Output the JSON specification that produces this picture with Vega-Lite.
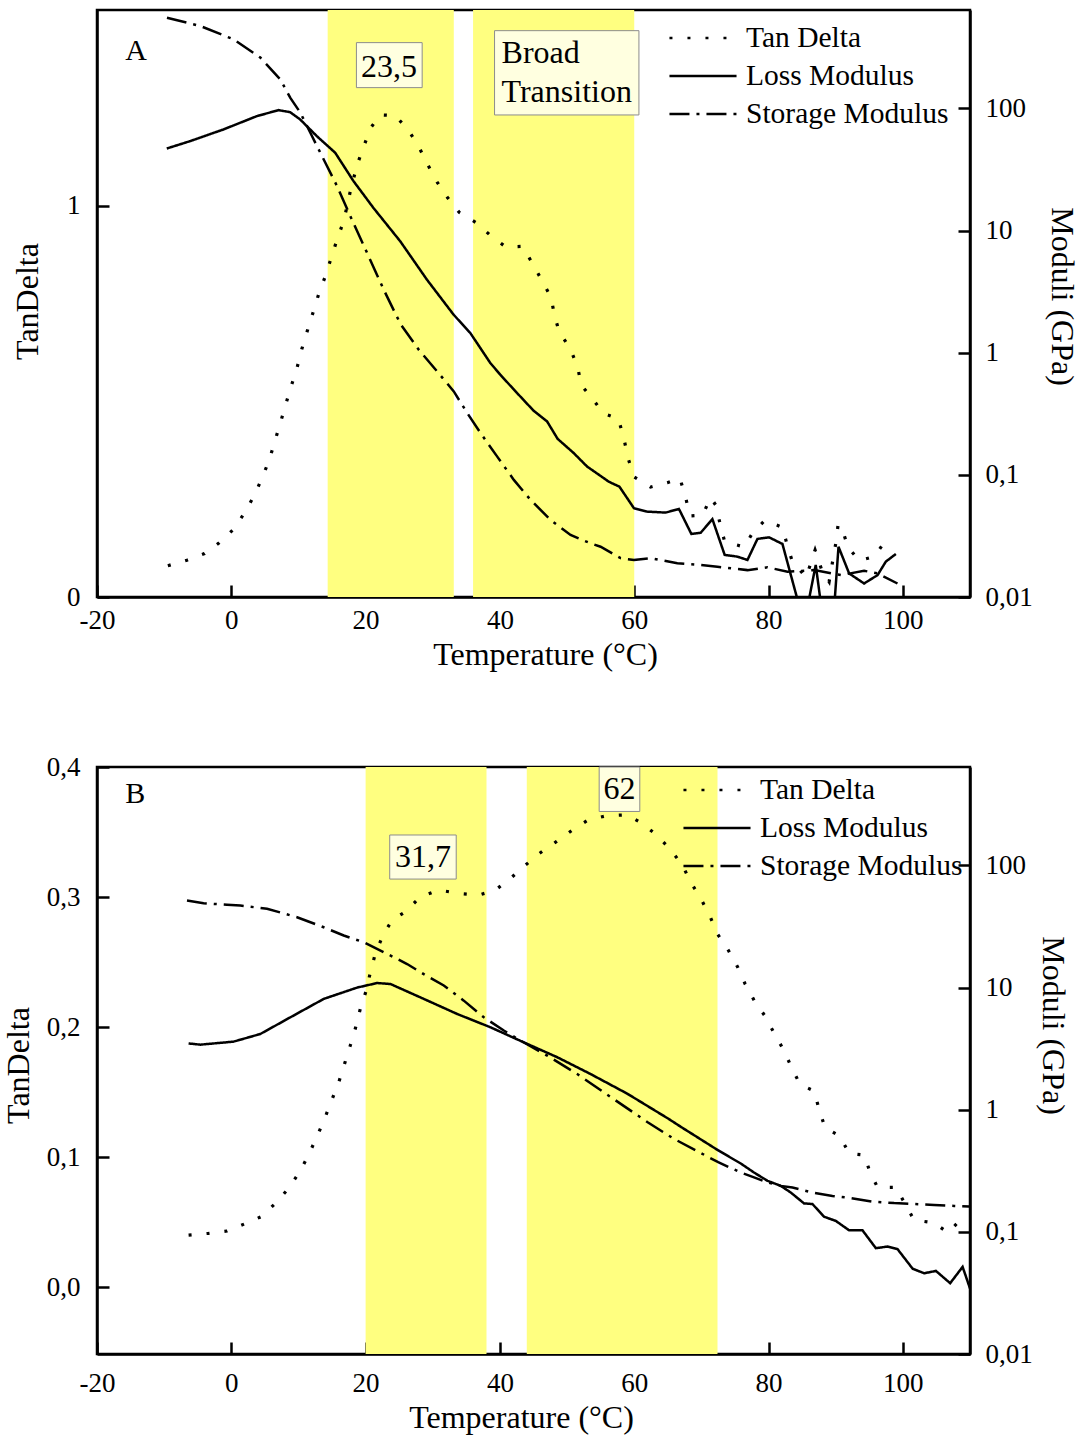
{
  "$schema": "https://vega.github.io/schema/vega-lite/v6.json",
  "background": "white",
  "padding": {"left": 0, "top": 8, "right": 0, "bottom": 0},
  "config": {
    "font": "Liberation Serif",
    "view": {"stroke": "black", "strokeWidth": 2.5},
    "axis": {"domainColor": "black", "domainWidth": 2.5, "tickColor": "black", "tickWidth": 2.5, "tickSize": -12, "labelColor": "black", "titleColor": "black", "labelFont": "Liberation Serif", "titleFont": "Liberation Serif", "labelFontSize": 27, "titleFontSize": 32, "titleFontWeight": "normal", "grid": false, "labelFlush": false, "labelOverlap": false}
  },
  "datasets": {
    "bandsA": [{"T": 14.35, "T2": 33.13}, {"T": 36.0, "T2": 60.0}],
    "bandsB": [{"T": 20.0, "T2": 38.0}, {"T": 44.0, "T2": 72.4}],
    "boxesA": [{"T": 18.63, "T2": 28.42, "tan": 1.4166, "tan2": 1.3016}, {"T": 39.2, "T2": 60.7, "tan": 1.4472, "tan2": 1.2318}],
    "boxesB": [{"T": 23.59, "T2": 33.49, "tan": 0.3477, "tan2": 0.3138}, {"T": 54.78, "T2": 60.83, "tan": 0.4, "tan2": 0.3658}],
    "numA": [{"T": 23.5, "tan": 1.3297, "label": "23,5"}],
    "numB": [{"T": 28.56, "tan": 0.3228, "label": "31,7"}, {"T": 57.8, "tan": 0.3753, "label": "62"}],
    "leftA": [{"T": 40.24, "tan": 1.3639, "label": "Broad\nTransition"}],
    "letterA": [{"T": -15.8, "tan": 1.372, "label": "A"}],
    "letterB": [{"T": -15.8, "tan": 0.3725, "label": "B"}],
    "tanA": [
      {"T": -9.45, "tan": 0.080, "series": "Tan Delta"}, {"T": -6.61, "tan": 0.094, "series": "Tan Delta"}, {"T": -3.99, "tan": 0.111, "series": "Tan Delta"}, {"T": -1.90, "tan": 0.137, "series": "Tan Delta"}, {"T": 0.34, "tan": 0.173, "series": "Tan Delta"}, {"T": 2.09, "tan": 0.218, "series": "Tan Delta"}, {"T": 3.43, "tan": 0.260, "series": "Tan Delta"}, {"T": 4.58, "tan": 0.304, "series": "Tan Delta"}, {"T": 5.67, "tan": 0.351, "series": "Tan Delta"}, {"T": 6.46, "tan": 0.397, "series": "Tan Delta"}, {"T": 7.31, "tan": 0.445, "series": "Tan Delta"}, {"T": 8.10, "tan": 0.492, "series": "Tan Delta"}, {"T": 8.91, "tan": 0.538, "series": "Tan Delta"}, {"T": 9.81, "tan": 0.587, "series": "Tan Delta"}, {"T": 10.49, "tan": 0.633, "series": "Tan Delta"}, {"T": 11.30, "tan": 0.679, "series": "Tan Delta"}, {"T": 12.19, "tan": 0.728, "series": "Tan Delta"}, {"T": 13.03, "tan": 0.775, "series": "Tan Delta"}, {"T": 14.03, "tan": 0.821, "series": "Tan Delta"}, {"T": 14.88, "tan": 0.867, "series": "Tan Delta"}, {"T": 15.78, "tan": 0.915, "series": "Tan Delta"}, {"T": 16.76, "tan": 0.962, "series": "Tan Delta"}, {"T": 17.70, "tan": 1.035, "series": "Tan Delta"}, {"T": 18.73, "tan": 1.104, "series": "Tan Delta"}, {"T": 19.72, "tan": 1.151, "series": "Tan Delta"}, {"T": 20.72, "tan": 1.198, "series": "Tan Delta"}, {"T": 22.21, "tan": 1.232, "series": "Tan Delta"}, {"T": 24.44, "tan": 1.230, "series": "Tan Delta"}, {"T": 26.46, "tan": 1.191, "series": "Tan Delta"}, {"T": 27.96, "tan": 1.149, "series": "Tan Delta"}, {"T": 29.21, "tan": 1.106, "series": "Tan Delta"}, {"T": 30.70, "tan": 1.059, "series": "Tan Delta"}, {"T": 32.19, "tan": 1.021, "series": "Tan Delta"}, {"T": 33.93, "tan": 0.983, "series": "Tan Delta"}, {"T": 36.42, "tan": 0.957, "series": "Tan Delta"}, {"T": 38.66, "tan": 0.923, "series": "Tan Delta"}, {"T": 40.90, "tan": 0.894, "series": "Tan Delta"}, {"T": 43.39, "tan": 0.896, "series": "Tan Delta"}, {"T": 44.88, "tan": 0.851, "series": "Tan Delta"}, {"T": 46.12, "tan": 0.813, "series": "Tan Delta"}, {"T": 47.61, "tan": 0.766, "series": "Tan Delta"}, {"T": 48.10, "tan": 0.722, "series": "Tan Delta"}, {"T": 48.81, "tan": 0.678, "series": "Tan Delta"}, {"T": 50.46, "tan": 0.635, "series": "Tan Delta"}, {"T": 51.57, "tan": 0.588, "series": "Tan Delta"}, {"T": 52.12, "tan": 0.541, "series": "Tan Delta"}, {"T": 53.77, "tan": 0.507, "series": "Tan Delta"}, {"T": 55.42, "tan": 0.469, "series": "Tan Delta"}, {"T": 57.63, "tan": 0.456, "series": "Tan Delta"}, {"T": 58.46, "tan": 0.405, "series": "Tan Delta"}, {"T": 59.10, "tan": 0.354, "series": "Tan Delta"}, {"T": 59.96, "tan": 0.307, "series": "Tan Delta"}, {"T": 62.44, "tan": 0.281, "series": "Tan Delta"}, {"T": 64.93, "tan": 0.292, "series": "Tan Delta"}, {"T": 66.81, "tan": 0.303, "series": "Tan Delta"}, {"T": 67.66, "tan": 0.254, "series": "Tan Delta"}, {"T": 68.30, "tan": 0.207, "series": "Tan Delta"}, {"T": 70.15, "tan": 0.209, "series": "Tan Delta"}, {"T": 71.39, "tan": 0.254, "series": "Tan Delta"}, {"T": 72.13, "tan": 0.235, "series": "Tan Delta"}, {"T": 72.77, "tan": 0.188, "series": "Tan Delta"}, {"T": 73.47, "tan": 0.141, "series": "Tan Delta"}, {"T": 76.35, "tan": 0.128, "series": "Tan Delta"}, {"T": 77.75, "tan": 0.167, "series": "Tan Delta"}, {"T": 79.48, "tan": 0.196, "series": "Tan Delta"}, {"T": 82.07, "tan": 0.178, "series": "Tan Delta"}, {"T": 82.82, "tan": 0.130, "series": "Tan Delta"}, {"T": 83.56, "tan": 0.090, "series": "Tan Delta"}, {"T": 84.60, "tan": 0.070, "series": "Tan Delta"}, {"T": 85.60, "tan": 0.050, "series": "Tan Delta"}, {"T": 86.93, "tan": 0.120, "series": "Tan Delta"}, {"T": 88.00, "tan": 0.065, "series": "Tan Delta"}, {"T": 89.02, "tan": 0.039, "series": "Tan Delta"}, {"T": 90.01, "tan": 0.137, "series": "Tan Delta"}, {"T": 90.36, "tan": 0.185, "series": "Tan Delta"}, {"T": 91.01, "tan": 0.171, "series": "Tan Delta"}, {"T": 91.85, "tan": 0.127, "series": "Tan Delta"}, {"T": 93.49, "tan": 0.093, "series": "Tan Delta"}, {"T": 95.72, "tan": 0.103, "series": "Tan Delta"}, {"T": 97.47, "tan": 0.145, "series": "Tan Delta"}
    ],
    "modA": [
      {"T": -9.61, "v": 47.0, "series": "Loss Modulus"}, {"T": -6.14, "v": 54.0, "series": "Loss Modulus"}, {"T": -1.18, "v": 67.3, "series": "Loss Modulus"}, {"T": 3.80, "v": 86.5, "series": "Loss Modulus"}, {"T": 7.02, "v": 96.9, "series": "Loss Modulus"}, {"T": 8.76, "v": 93.3, "series": "Loss Modulus"}, {"T": 10.25, "v": 81.3, "series": "Loss Modulus"}, {"T": 12.74, "v": 59.3, "series": "Loss Modulus"}, {"T": 15.47, "v": 43.4, "series": "Loss Modulus"}, {"T": 18.20, "v": 25.4, "series": "Loss Modulus"}, {"T": 21.18, "v": 15.3, "series": "Loss Modulus"}, {"T": 25.16, "v": 8.17, "series": "Loss Modulus"}, {"T": 29.14, "v": 3.96, "series": "Loss Modulus"}, {"T": 33.10, "v": 2.05, "series": "Loss Modulus"}, {"T": 35.59, "v": 1.45, "series": "Loss Modulus"}, {"T": 38.57, "v": 0.824, "series": "Loss Modulus"}, {"T": 40.06, "v": 0.660, "series": "Loss Modulus"}, {"T": 42.55, "v": 0.468, "series": "Loss Modulus"}, {"T": 45.02, "v": 0.335, "series": "Loss Modulus"}, {"T": 47.02, "v": 0.274, "series": "Loss Modulus"}, {"T": 48.60, "v": 0.197, "series": "Loss Modulus"}, {"T": 50.98, "v": 0.151, "series": "Loss Modulus"}, {"T": 52.98, "v": 0.117, "series": "Loss Modulus"}, {"T": 54.99, "v": 0.098, "series": "Loss Modulus"}, {"T": 56.20, "v": 0.088, "series": "Loss Modulus"}, {"T": 57.80, "v": 0.080, "series": "Loss Modulus"}, {"T": 59.96, "v": 0.0533, "series": "Loss Modulus"}, {"T": 61.95, "v": 0.0500, "series": "Loss Modulus"}, {"T": 64.68, "v": 0.0491, "series": "Loss Modulus"}, {"T": 66.66, "v": 0.0526, "series": "Loss Modulus"}, {"T": 68.51, "v": 0.0328, "series": "Loss Modulus"}, {"T": 69.90, "v": 0.0336, "series": "Loss Modulus"}, {"T": 71.64, "v": 0.0434, "series": "Loss Modulus"}, {"T": 73.47, "v": 0.0221, "series": "Loss Modulus"}, {"T": 75.37, "v": 0.0214, "series": "Loss Modulus"}, {"T": 76.86, "v": 0.0201, "series": "Loss Modulus"}, {"T": 78.35, "v": 0.0299, "series": "Loss Modulus"}, {"T": 80.07, "v": 0.0308, "series": "Loss Modulus"}, {"T": 82.07, "v": 0.0272, "series": "Loss Modulus"}, {"T": 85.30, "v": 0.006, "series": "Loss Modulus"}, {"T": 87.03, "v": 0.0183, "series": "Loss Modulus"}, {"T": 88.20, "v": 0.006, "series": "Loss Modulus"}, {"T": 89.60, "v": 0.006, "series": "Loss Modulus"}, {"T": 90.42, "v": 0.0258, "series": "Loss Modulus"}, {"T": 92.00, "v": 0.0156, "series": "Loss Modulus"}, {"T": 94.23, "v": 0.0129, "series": "Loss Modulus"}, {"T": 96.23, "v": 0.0151, "series": "Loss Modulus"}, {"T": 97.47, "v": 0.0195, "series": "Loss Modulus"}, {"T": 98.96, "v": 0.0225, "series": "Loss Modulus"},
      {"T": -9.58, "v": 553, "series": "Storage Modulus"}, {"T": -4.62, "v": 473, "series": "Storage Modulus"}, {"T": 0.34, "v": 368, "series": "Storage Modulus"}, {"T": 4.32, "v": 261, "series": "Storage Modulus"}, {"T": 7.30, "v": 173, "series": "Storage Modulus"}, {"T": 8.79, "v": 122, "series": "Storage Modulus"}, {"T": 10.28, "v": 92.3, "series": "Storage Modulus"}, {"T": 11.77, "v": 63.2, "series": "Storage Modulus"}, {"T": 13.76, "v": 38.2, "series": "Storage Modulus"}, {"T": 15.75, "v": 23.1, "series": "Storage Modulus"}, {"T": 17.73, "v": 13.1, "series": "Storage Modulus"}, {"T": 20.22, "v": 6.56, "series": "Storage Modulus"}, {"T": 22.70, "v": 3.28, "series": "Storage Modulus"}, {"T": 25.19, "v": 1.72, "series": "Storage Modulus"}, {"T": 27.91, "v": 1.06, "series": "Storage Modulus"}, {"T": 30.66, "v": 0.703, "series": "Storage Modulus"}, {"T": 33.13, "v": 0.482, "series": "Storage Modulus"}, {"T": 35.13, "v": 0.321, "series": "Storage Modulus"}, {"T": 37.11, "v": 0.220, "series": "Storage Modulus"}, {"T": 39.60, "v": 0.141, "series": "Storage Modulus"}, {"T": 42.07, "v": 0.091, "series": "Storage Modulus"}, {"T": 44.56, "v": 0.0624, "series": "Storage Modulus"}, {"T": 47.54, "v": 0.0428, "series": "Storage Modulus"}, {"T": 50.52, "v": 0.0322, "series": "Storage Modulus"}, {"T": 53.50, "v": 0.0275, "series": "Storage Modulus"}, {"T": 54.99, "v": 0.0258, "series": "Storage Modulus"}, {"T": 57.97, "v": 0.0208, "series": "Storage Modulus"}, {"T": 59.96, "v": 0.0201, "series": "Storage Modulus"}, {"T": 62.44, "v": 0.0208, "series": "Storage Modulus"}, {"T": 66.42, "v": 0.0189, "series": "Storage Modulus"}, {"T": 69.90, "v": 0.0183, "series": "Storage Modulus"}, {"T": 72.38, "v": 0.0177, "series": "Storage Modulus"}, {"T": 76.86, "v": 0.0166, "series": "Storage Modulus"}, {"T": 79.84, "v": 0.0175, "series": "Storage Modulus"}, {"T": 82.82, "v": 0.0161, "series": "Storage Modulus"}, {"T": 86.80, "v": 0.0166, "series": "Storage Modulus"}, {"T": 90.80, "v": 0.0151, "series": "Storage Modulus"}, {"T": 94.23, "v": 0.0164, "series": "Storage Modulus"}, {"T": 96.23, "v": 0.0156, "series": "Storage Modulus"}, {"T": 99.20, "v": 0.0129, "series": "Storage Modulus"}
    ],
    "tanB": [
      {"T": -6.36, "tan": 0.040, "series": "Tan Delta"}, {"T": -3.38, "tan": 0.0413, "series": "Tan Delta"}, {"T": -0.64, "tan": 0.0431, "series": "Tan Delta"}, {"T": 1.94, "tan": 0.0485, "series": "Tan Delta"}, {"T": 4.43, "tan": 0.0541, "series": "Tan Delta"}, {"T": 6.45, "tan": 0.0638, "series": "Tan Delta"}, {"T": 8.45, "tan": 0.0754, "series": "Tan Delta"}, {"T": 10.18, "tan": 0.0887, "series": "Tan Delta"}, {"T": 11.48, "tan": 0.1013, "series": "Tan Delta"}, {"T": 12.67, "tan": 0.1148, "series": "Tan Delta"}, {"T": 13.82, "tan": 0.1285, "series": "Tan Delta"}, {"T": 14.86, "tan": 0.1425, "series": "Tan Delta"}, {"T": 15.95, "tan": 0.1567, "series": "Tan Delta"}, {"T": 16.84, "tan": 0.1713, "series": "Tan Delta"}, {"T": 17.70, "tan": 0.1855, "series": "Tan Delta"}, {"T": 18.48, "tan": 0.199, "series": "Tan Delta"}, {"T": 19.23, "tan": 0.2144, "series": "Tan Delta"}, {"T": 20.12, "tan": 0.2285, "series": "Tan Delta"}, {"T": 20.72, "tan": 0.2425, "series": "Tan Delta"}, {"T": 21.46, "tan": 0.2567, "series": "Tan Delta"}, {"T": 22.61, "tan": 0.2708, "series": "Tan Delta"}, {"T": 23.95, "tan": 0.2823, "series": "Tan Delta"}, {"T": 25.93, "tan": 0.2887, "series": "Tan Delta"}, {"T": 28.17, "tan": 0.3002, "series": "Tan Delta"}, {"T": 30.89, "tan": 0.3054, "series": "Tan Delta"}, {"T": 33.87, "tan": 0.3028, "series": "Tan Delta"}, {"T": 36.86, "tan": 0.3015, "series": "Tan Delta"}, {"T": 39.34, "tan": 0.3054, "series": "Tan Delta"}, {"T": 41.58, "tan": 0.3144, "series": "Tan Delta"}, {"T": 43.82, "tan": 0.3246, "series": "Tan Delta"}, {"T": 45.90, "tan": 0.3336, "series": "Tan Delta"}, {"T": 48.40, "tan": 0.3426, "series": "Tan Delta"}, {"T": 50.67, "tan": 0.3511, "series": "Tan Delta"}, {"T": 53.14, "tan": 0.3593, "series": "Tan Delta"}, {"T": 55.89, "tan": 0.3625, "series": "Tan Delta"}, {"T": 58.91, "tan": 0.3632, "series": "Tan Delta"}, {"T": 61.12, "tan": 0.3568, "series": "Tan Delta"}, {"T": 63.31, "tan": 0.3478, "series": "Tan Delta"}, {"T": 65.23, "tan": 0.3375, "series": "Tan Delta"}, {"T": 67.17, "tan": 0.3246, "series": "Tan Delta"}, {"T": 68.36, "tan": 0.3118, "series": "Tan Delta"}, {"T": 69.91, "tan": 0.2989, "series": "Tan Delta"}, {"T": 71.28, "tan": 0.2852, "series": "Tan Delta"}, {"T": 72.37, "tan": 0.2718, "series": "Tan Delta"}, {"T": 74.02, "tan": 0.259, "series": "Tan Delta"}, {"T": 75.39, "tan": 0.2462, "series": "Tan Delta"}, {"T": 76.50, "tan": 0.2333, "series": "Tan Delta"}, {"T": 77.87, "tan": 0.2204, "series": "Tan Delta"}, {"T": 79.52, "tan": 0.2081, "series": "Tan Delta"}, {"T": 80.89, "tan": 0.1947, "series": "Tan Delta"}, {"T": 82.31, "tan": 0.1818, "series": "Tan Delta"}, {"T": 83.41, "tan": 0.169, "series": "Tan Delta"}, {"T": 84.69, "tan": 0.1559, "series": "Tan Delta"}, {"T": 86.78, "tan": 0.1508, "series": "Tan Delta"}, {"T": 87.53, "tan": 0.1367, "series": "Tan Delta"}, {"T": 88.42, "tan": 0.1225, "series": "Tan Delta"}, {"T": 90.61, "tan": 0.1162, "series": "Tan Delta"}, {"T": 92.00, "tan": 0.1028, "series": "Tan Delta"}, {"T": 94.23, "tan": 0.1015, "series": "Tan Delta"}, {"T": 95.13, "tan": 0.0882, "series": "Tan Delta"}, {"T": 96.23, "tan": 0.0767, "series": "Tan Delta"}, {"T": 98.96, "tan": 0.0767, "series": "Tan Delta"}, {"T": 101.68, "tan": 0.0515, "series": "Tan Delta"}, {"T": 104.57, "tan": 0.0495, "series": "Tan Delta"}, {"T": 106.75, "tan": 0.0418, "series": "Tan Delta"}, {"T": 108.39, "tan": 0.0508, "series": "Tan Delta"}, {"T": 109.64, "tan": 0.0477, "series": "Tan Delta"}
    ],
    "modB": [
      {"T": -6.36, "v": 3.49, "series": "Loss Modulus"}, {"T": -4.62, "v": 3.41, "series": "Loss Modulus"}, {"T": 0.34, "v": 3.61, "series": "Loss Modulus"}, {"T": 4.32, "v": 4.17, "series": "Loss Modulus"}, {"T": 8.79, "v": 5.71, "series": "Loss Modulus"}, {"T": 13.76, "v": 8.08, "series": "Loss Modulus"}, {"T": 18.73, "v": 10.0, "series": "Loss Modulus"}, {"T": 21.71, "v": 10.9, "series": "Loss Modulus"}, {"T": 23.70, "v": 10.7, "series": "Loss Modulus"}, {"T": 28.66, "v": 8.08, "series": "Loss Modulus"}, {"T": 33.64, "v": 6.08, "series": "Loss Modulus"}, {"T": 38.60, "v": 4.73, "series": "Loss Modulus"}, {"T": 43.56, "v": 3.56, "series": "Loss Modulus"}, {"T": 48.54, "v": 2.69, "series": "Loss Modulus"}, {"T": 53.50, "v": 1.96, "series": "Loss Modulus"}, {"T": 59.00, "v": 1.35, "series": "Loss Modulus"}, {"T": 65.10, "v": 0.843, "series": "Loss Modulus"}, {"T": 67.00, "v": 0.721, "series": "Loss Modulus"}, {"T": 72.50, "v": 0.465, "series": "Loss Modulus"}, {"T": 75.86, "v": 0.363, "series": "Loss Modulus"}, {"T": 77.84, "v": 0.306, "series": "Loss Modulus"}, {"T": 79.84, "v": 0.262, "series": "Loss Modulus"}, {"T": 81.82, "v": 0.238, "series": "Loss Modulus"}, {"T": 83.31, "v": 0.210, "series": "Loss Modulus"}, {"T": 85.29, "v": 0.171, "series": "Loss Modulus"}, {"T": 86.54, "v": 0.169, "series": "Loss Modulus"}, {"T": 88.27, "v": 0.133, "series": "Loss Modulus"}, {"T": 90.01, "v": 0.123, "series": "Loss Modulus"}, {"T": 92.00, "v": 0.103, "series": "Loss Modulus"}, {"T": 93.99, "v": 0.103, "series": "Loss Modulus"}, {"T": 95.98, "v": 0.0735, "series": "Loss Modulus"}, {"T": 97.72, "v": 0.0758, "series": "Loss Modulus"}, {"T": 99.21, "v": 0.0722, "series": "Loss Modulus"}, {"T": 101.45, "v": 0.050, "series": "Loss Modulus"}, {"T": 103.17, "v": 0.0458, "series": "Loss Modulus"}, {"T": 104.92, "v": 0.0479, "series": "Loss Modulus"}, {"T": 107.05, "v": 0.038, "series": "Loss Modulus"}, {"T": 108.90, "v": 0.0517, "series": "Loss Modulus"}, {"T": 110.13, "v": 0.0328, "series": "Loss Modulus"},
      {"T": -6.60, "v": 51.6, "series": "Storage Modulus"}, {"T": -4.13, "v": 49.1, "series": "Storage Modulus"}, {"T": -0.64, "v": 47.6, "series": "Storage Modulus"}, {"T": 1.34, "v": 47.0, "series": "Storage Modulus"}, {"T": 5.32, "v": 44.2, "series": "Storage Modulus"}, {"T": 9.79, "v": 37.7, "series": "Storage Modulus"}, {"T": 13.76, "v": 31.2, "series": "Storage Modulus"}, {"T": 16.74, "v": 26.7, "series": "Storage Modulus"}, {"T": 19.72, "v": 23.5, "series": "Storage Modulus"}, {"T": 22.70, "v": 19.5, "series": "Storage Modulus"}, {"T": 26.18, "v": 15.6, "series": "Storage Modulus"}, {"T": 28.66, "v": 12.9, "series": "Storage Modulus"}, {"T": 31.64, "v": 10.4, "series": "Storage Modulus"}, {"T": 34.62, "v": 7.82, "series": "Storage Modulus"}, {"T": 37.60, "v": 5.71, "series": "Storage Modulus"}, {"T": 40.58, "v": 4.45, "series": "Storage Modulus"}, {"T": 43.07, "v": 3.68, "series": "Storage Modulus"}, {"T": 47.05, "v": 2.77, "series": "Storage Modulus"}, {"T": 51.52, "v": 1.96, "series": "Storage Modulus"}, {"T": 56.50, "v": 1.27, "series": "Storage Modulus"}, {"T": 62.00, "v": 0.79, "series": "Storage Modulus"}, {"T": 65.90, "v": 0.578, "series": "Storage Modulus"}, {"T": 72.50, "v": 0.372, "series": "Storage Modulus"}, {"T": 75.86, "v": 0.306, "series": "Storage Modulus"}, {"T": 77.84, "v": 0.279, "series": "Storage Modulus"}, {"T": 79.84, "v": 0.254, "series": "Storage Modulus"}, {"T": 81.82, "v": 0.238, "series": "Storage Modulus"}, {"T": 83.56, "v": 0.231, "series": "Storage Modulus"}, {"T": 86.54, "v": 0.210, "series": "Storage Modulus"}, {"T": 89.52, "v": 0.197, "series": "Storage Modulus"}, {"T": 92.25, "v": 0.189, "series": "Storage Modulus"}, {"T": 95.48, "v": 0.177, "series": "Storage Modulus"}, {"T": 98.70, "v": 0.172, "series": "Storage Modulus"}, {"T": 101.68, "v": 0.169, "series": "Storage Modulus"}, {"T": 104.66, "v": 0.166, "series": "Storage Modulus"}, {"T": 107.64, "v": 0.163, "series": "Storage Modulus"}, {"T": 109.88, "v": 0.161, "series": "Storage Modulus"}
    ]
  },
  "spacing": 170,
  "bounds": "flush",
  "resolve": {"scale": {"x": "independent", "y": "independent", "strokeDash": "independent"}, "legend": {"strokeDash": "independent"}},
  "vconcat": [
    {
      "width": 873, "height": 587,
      "encoding": {"x": {"field": "T", "type": "quantitative", "scale": {"domain": [-20, 110], "nice": false, "zero": false}, "axis": {"values": [-20, 0, 20, 40, 60, 80, 100], "title": "Temperature (°C)", "labelExpr": "datum.value < 0 ? '-' + abs(datum.value) : '' + datum.value", "labelPadding": 22, "titleX": 448, "titleY": 67, "titleAlign": "center", "titleBaseline": "alphabetic"}}},
      "layer": [
        {"layer": [
          {"data": {"name": "bandsA"}, "mark": {"type": "rect", "fill": "#FFFF80"}, "encoding": {"x2": {"field": "T2"}}},
          {"data": {"name": "tanA"}, "mark": {"type": "line", "color": "black", "strokeWidth": 3.2},
           "encoding": {
             "y": {"field": "tan", "type": "quantitative", "scale": {"domain": [0, 1.5], "nice": false, "zero": false}, "axis": {"orient": "left", "values": [0, 1], "labelExpr": "'' + datum.value", "title": "TanDelta", "titleX": -60, "titleY": 291, "titleAngle": 270, "titleBaseline": "alphabetic", "titleAlign": "center", "labelPadding": 29}},
             "strokeDash": {"field": "series", "type": "nominal", "scale": {"domain": ["Tan Delta", "Loss Modulus", "Storage Modulus"], "range": [[3, 15], [1, 0], [20, 7, 3, 7]]},
               "legend": {"orient": "none", "legendX": 583, "legendY": 5, "title": null, "symbolType": "M-1.56,0L1.56,0", "symbolSize": 1849, "symbolStrokeWidth": 2.7, "symbolStrokeColor": "black", "labelFont": "Liberation Serif", "labelFontSize": 29.5, "labelColor": "black", "labelOffset": 20, "labelLimit": 400, "rowPadding": 0, "padding": 0}}
           }},
          {"data": {"name": "boxesA"}, "mark": {"type": "rect", "fill": "#FFFFE0", "stroke": "#8c8c8c", "strokeWidth": 1}, "encoding": {"x2": {"field": "T2"}, "y": {"field": "tan", "type": "quantitative"}, "y2": {"field": "tan2"}}},
          {"data": {"name": "numA"}, "mark": {"type": "text", "fontSize": 32, "align": "center", "baseline": "alphabetic", "font": "Liberation Serif", "color": "black"}, "encoding": {"y": {"field": "tan", "type": "quantitative"}, "text": {"field": "label"}}},
          {"data": {"name": "leftA"}, "mark": {"type": "text", "fontSize": 32, "align": "left", "baseline": "alphabetic", "font": "Liberation Serif", "color": "black", "lineBreak": "\n", "lineHeight": 39}, "encoding": {"y": {"field": "tan", "type": "quantitative"}, "text": {"field": "label"}}},
          {"data": {"name": "letterA"}, "mark": {"type": "text", "fontSize": 30, "align": "left", "baseline": "alphabetic", "font": "Liberation Serif", "color": "black"}, "encoding": {"y": {"field": "tan", "type": "quantitative"}, "text": {"field": "label"}}}
        ]},
        {"data": {"name": "modA"}, "mark": {"type": "line", "color": "black", "strokeWidth": 2.5, "clip": true},
         "encoding": {
           "y": {"field": "v", "type": "quantitative", "scale": {"type": "log", "domain": [0.01, 640], "nice": false}, "axis": {"orient": "right", "values": [0.01, 0.1, 1, 10, 100], "labelExpr": "replace('' + datum.value, '.', ',')", "title": "Moduli (GPa)", "titleX": 81, "titleY": 286, "titleAngle": 90, "titleBaseline": "alphabetic", "titleAlign": "center", "labelPadding": 27}},
           "strokeDash": {"field": "series", "type": "nominal"}
         }}
      ],
      "resolve": {"scale": {"y": "independent"}}
    },
    {
      "width": 873, "height": 587,
      "encoding": {"x": {"field": "T", "type": "quantitative", "scale": {"domain": [-20, 110], "nice": false, "zero": false}, "axis": {"values": [-20, 0, 20, 40, 60, 80, 100], "title": "Temperature (°C)", "labelExpr": "datum.value < 0 ? '-' + abs(datum.value) : '' + datum.value", "labelPadding": 28, "titleX": 424, "titleY": 73, "titleAlign": "center", "titleBaseline": "alphabetic"}}},
      "layer": [
        {"layer": [
          {"data": {"name": "bandsB"}, "mark": {"type": "rect", "fill": "#FFFF80"}, "encoding": {"x2": {"field": "T2"}}},
          {"data": {"name": "tanB"}, "mark": {"type": "line", "color": "black", "strokeWidth": 3.2},
           "encoding": {
             "y": {"field": "tan", "type": "quantitative", "scale": {"domain": [-0.0515, 0.4], "nice": false, "zero": false}, "axis": {"orient": "left", "values": [0, 0.1, 0.2, 0.3, 0.4], "labelExpr": "replace(format(datum.value, '.1f'), '.', ',')", "title": "TanDelta", "titleX": -69, "titleY": 298, "titleAngle": 270, "titleBaseline": "alphabetic", "titleAlign": "center", "labelPadding": 29}},
             "strokeDash": {"field": "series", "type": "nominal", "scale": {"domain": ["Tan Delta", "Loss Modulus", "Storage Modulus"], "range": [[3, 15], [1, 0], [20, 7, 3, 7]]},
               "legend": {"orient": "none", "legendX": 597, "legendY": 0, "title": null, "symbolType": "M-1.56,0L1.56,0", "symbolSize": 1849, "symbolStrokeWidth": 2.7, "symbolStrokeColor": "black", "labelFont": "Liberation Serif", "labelFontSize": 29.5, "labelColor": "black", "labelOffset": 20, "labelLimit": 400, "rowPadding": 0, "padding": 0}}
           }},
          {"data": {"name": "boxesB"}, "mark": {"type": "rect", "fill": "#FFFFE0", "stroke": "#8c8c8c", "strokeWidth": 1}, "encoding": {"x2": {"field": "T2"}, "y": {"field": "tan", "type": "quantitative"}, "y2": {"field": "tan2"}}},
          {"data": {"name": "numB"}, "mark": {"type": "text", "fontSize": 32, "align": "center", "baseline": "alphabetic", "font": "Liberation Serif", "color": "black"}, "encoding": {"y": {"field": "tan", "type": "quantitative"}, "text": {"field": "label"}}},
          {"data": {"name": "letterB"}, "mark": {"type": "text", "fontSize": 30, "align": "left", "baseline": "alphabetic", "font": "Liberation Serif", "color": "black"}, "encoding": {"y": {"field": "tan", "type": "quantitative"}, "text": {"field": "label"}}}
        ]},
        {"data": {"name": "modB"}, "mark": {"type": "line", "color": "black", "strokeWidth": 2.5, "clip": true},
         "encoding": {
           "y": {"field": "v", "type": "quantitative", "scale": {"type": "log", "domain": [0.01, 640], "nice": false}, "axis": {"orient": "right", "values": [0.01, 0.1, 1, 10, 100], "labelExpr": "replace('' + datum.value, '.', ',')", "title": "Moduli (GPa)", "titleX": 72, "titleY": 258, "titleAngle": 90, "titleBaseline": "alphabetic", "titleAlign": "center", "labelPadding": 27}},
           "strokeDash": {"field": "series", "type": "nominal"}
         }}
      ],
      "resolve": {"scale": {"y": "independent"}}
    }
  ]
}
